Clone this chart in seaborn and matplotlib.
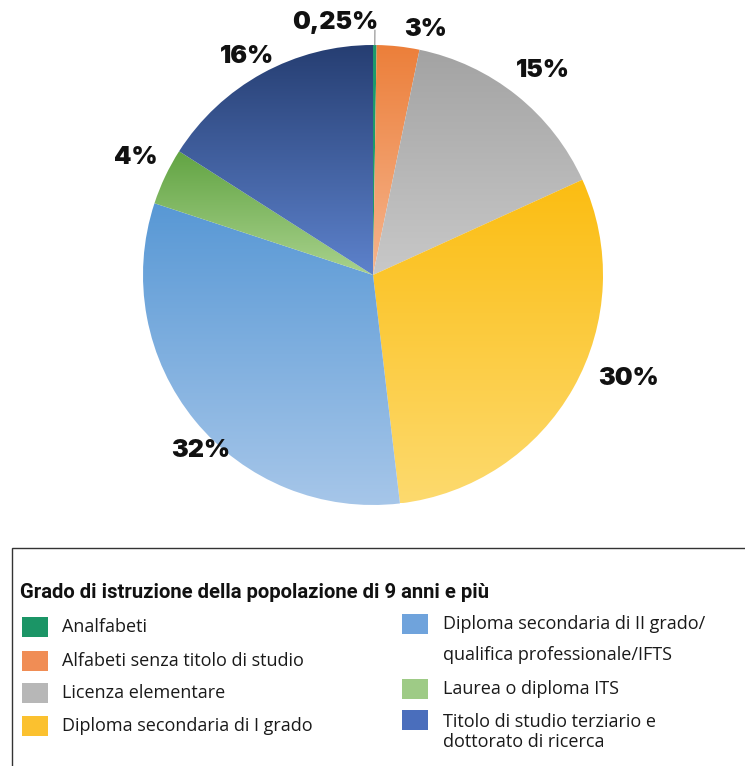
import numpy as np
import matplotlib
matplotlib.use("Agg")
import matplotlib.pyplot as plt
from matplotlib.colors import to_rgb
from matplotlib.patches import Rectangle
import seaborn as sns

# data
categories = [
    "Analfabeti",
    "Alfabeti senza titolo di studio",
    "Licenza elementare",
    "Diploma secondaria di I grado",
    "Diploma secondaria di II grado/\nqualifica professionale/IFTS",
    "Laurea o diploma ITS",
    "Titolo di studio terziario e\ndottorato di ricerca",
]
values = [0.25, 3, 15, 30, 32, 4, 16]
pct_labels = ["0,25%", "3%", "15%", "30%", "32%", "4%", "16%"]
legend_title = "Grado di istruzione della popolazione di 9 anni e più"

# colours: gradient top -> bottom for the slices, flat for the legend
top_colors = ["#1e9a6c", "#ec7f3a", "#a3a3a3", "#fbbd12", "#5898d5", "#62a443", "#263e72"]
bottom_colors = ["#1e9a6c", "#f6b58e", "#c8c8c8", "#fdda6e", "#a6c6e9", "#a9d28d", "#5d82cc"]
legend_colors = ["#1b9566", "#f08d55", "#b7b7b7", "#fbc12f", "#6fa3dc", "#9ecb86", "#4a6ebc"]

# label placement (radius factor, angle in degrees)
label_r = [1.11, 1.09, 1.157, 1.196, 1.07, 1.15, 1.095]
label_ang = [98.5, 77.8, 50.3, -22.0, -134.5, 153.7, 120.0]

sns.set_theme(style="white")
plt.rcParams["font.family"] = ["Open Sans", "DejaVu Sans"]

W, H = 745, 766
fig = plt.figure(figsize=(W / 100, H / 100), dpi=100)

# pie axes: centre at (373, 275) px, radius 230 px
cx, cy, R = 373, 275, 230
half = R * 1.2
ax = fig.add_axes([(cx - half) / W, (H - cy - half) / H, 2 * half / W, 2 * half / H])

wedges, _ = ax.pie(values, startangle=90, counterclock=False, radius=1,
                   center=(0, 0), wedgeprops=dict(linewidth=0))

for w, ct, cb in zip(wedges, top_colors, bottom_colors):
    w.set_facecolor("none")
    bb = w.get_path().get_extents(w.get_patch_transform())
    t = np.linspace(0, 1, 256)[:, None]
    grad = (1 - t) * np.array(to_rgb(ct)) + t * np.array(to_rgb(cb))
    grad = grad[:, None, :]
    im = ax.imshow(grad, extent=(bb.x0, bb.x1, bb.y0, bb.y1), origin="upper",
                   aspect="auto", interpolation="bilinear", zorder=1)
    im.set_clip_path(w)

ax.set_xlim(-1.2, 1.2)
ax.set_ylim(-1.2, 1.2)
ax.set_aspect("equal")
ax.axis("off")

# percentage labels
for lab, r, a in zip(pct_labels, label_r, label_ang):
    x = r * np.cos(np.deg2rad(a))
    y = r * np.sin(np.deg2rad(a))
    ax.text(x, y, lab, ha="center", va="center", fontsize=18,
            family=["Inter", "DejaVu Sans"], fontweight="black", color="#111111", zorder=5)

# leader line for the tiny slice
mid = np.deg2rad((wedges[0].theta1 + wedges[0].theta2) / 2)
ax.plot([np.cos(mid), 1.065 * np.cos(mid)], [np.sin(mid), 1.065 * np.sin(mid)],
        color="#8c8c8c", lw=0.8, zorder=4)

# legend box
fig.patches.append(Rectangle((12 / W, -0.05), 1.0, (H - 548) / H + 0.05,
                             transform=fig.transFigure, fill=False,
                             edgecolor="#333333", lw=1.0))

fig.text(20 / W, 1 - 592 / H, legend_title, ha="left", va="center",
         fontsize=14.6, fontweight="bold", color="#111111",
         family=["Roboto", "DejaVu Sans"])

left_y = [627, 661, 693, 726]
right_y = [624, 689, 720]
sw_w, sw_h = 26, 20
fs = 13
txt_color = "#1a1a1a"


def swatch(x, y, color):
    fig.patches.append(Rectangle((x / W, 1 - (y + sw_h / 2) / H), sw_w / W, sw_h / H,
                                 transform=fig.transFigure, facecolor=color,
                                 edgecolor="none"))


for i in range(4):
    swatch(22, left_y[i], legend_colors[i])
    fig.text(62 / W, 1 - left_y[i] / H, categories[i], ha="left", va="center",
             fontsize=fs, color=txt_color)

# right column
swatch(402, right_y[0], legend_colors[4])
first, second = categories[4].split("\n")
fig.text(443 / W, 1 - 624 / H, first, ha="left", va="center", fontsize=fs, color=txt_color)
fig.text(443 / W, 1 - 655 / H, second, ha="left", va="center", fontsize=fs, color=txt_color)
swatch(402, right_y[1], legend_colors[5])
fig.text(443 / W, 1 - 689 / H, categories[5], ha="left", va="center", fontsize=fs, color=txt_color)
swatch(402, right_y[2], legend_colors[6])
fig.text(443 / W, 1 - 732 / H, categories[6], ha="left", va="center", fontsize=fs,
         color=txt_color, linespacing=1.1)

fig.savefig("out.png", dpi=100)
